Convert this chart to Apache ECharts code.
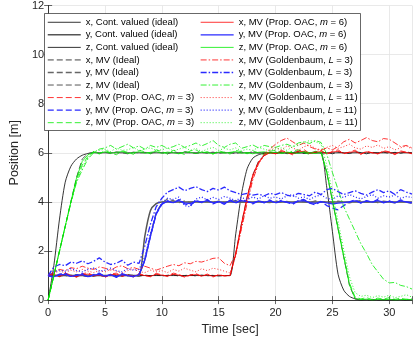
<!DOCTYPE html>
<html>
<head>
<meta charset="utf-8">
<script src="https://cdn.jsdelivr.net/npm/echarts@6/dist/echarts.min.js"></script>
<style>
  html, body { margin: 0; padding: 0; background: #fff; }
  #chart { width: 415px; height: 341px; }
</style>
</head>
<body>
<div id="chart"></div>
<script>
// time grid [sec]
const time = [0,0.5,1,1.5,2,2.5,3,3.5,4,4.5, 5,5.5,6,6.5,7,7.5,8,8.5,9,9.5,
  10,10.5,11,11.5,12,12.5,13,13.5,14,14.5, 15,15.5,16,16.5,17,17.5,18,18.5,19,19.5,
  20,20.5,21,21.5,22,22.5,23,23.5,24,24.5, 25,25.5,26,26.5,27,27.5,28,28.5,29,29.5,
  30,30.5,31,31.5,32];

const xTicks = [0, 5, 10, 15, 20, 25, 30];
const yTicks = [0, 2, 4, 6, 8, 10, 12];

// x position
const xCont = [1,1,1,1,1,1,1,1,1,1, 1,1,1,1,1,1,1,1,1,1, 1,1,1,1,1,1,1,1,1,1,
  1,1,1,2.7,4.3,5.35,5.78,5.92,5.98,6, 6,6,6,6,6,6,6,6,6,6, 6,6,6,6,6,6,6,6,6,6, 6,6,6,6,6];
const xIdeal = [1.0,1.03,0.97,1.02,0.98,1.04,0.99,0.96,1.02,1.0, 0.97,1.03,1.0,0.98,1.04,1.0,0.97,1.02,0.99,1.03,
  0.98,1.01,1.04,0.97,1.0,1.03,0.98,1.02,0.99,1.01, 0.98,1.0,1.0,1.9,3.1,4.2,5.1,5.65,5.9,6.02,
  5.97,6.03,5.98,6.02,6.05,5.97,6.0,6.04,5.98,6.02, 5.96,6.03,6.0,5.97,6.04,6.01,5.96,6.02,5.99,6.03,
  5.97,6.02,5.98,6.04,5.99];
const xM3 = [1.0,1.08,0.95,1.1,1.02,0.93,1.07,1.12,0.98,1.05, 0.92,1.06,1.1,0.97,1.04,0.94,1.08,1.0,0.95,1.09,
  1.03,0.96,1.1,1.05,0.93,1.02,1.08,0.97,1.06,0.94, 1.04,0.98,1.0,1.85,3.05,4.15,5.05,5.6,5.88,6.05,
  5.95,6.1,6.02,5.92,6.08,6.13,5.97,6.04,6.1,5.94, 6.06,6.12,5.96,6.03,6.11,5.93,6.07,6.0,5.95,6.09,
  6.04,5.92,6.08,6.02,5.96];
const xM6 = [1.0,1.04,0.97,1.05,1.0,0.96,1.03,1.06,0.99,1.02, 0.96,1.03,1.05,0.98,1.02,0.97,1.04,1.0,0.97,1.05,
  1.02,0.98,1.05,1.02,0.96,1.01,1.04,0.98,1.03,0.97, 1.02,0.99,1.0,1.9,3.1,4.2,5.1,5.62,5.88,6.0,
  5.97,6.05,6.01,5.96,6.04,6.06,5.98,6.02,6.05,5.97, 6.03,6.06,5.98,6.02,6.05,5.96,6.04,6.0,5.97,6.05,
  6.02,5.96,6.04,6.01,5.98];
const xL3 = [1.0,1.15,1.25,1.2,1.32,1.28,1.38,1.3,1.25,1.35, 1.3,1.22,1.35,1.4,1.28,1.33,1.25,1.38,1.3,1.22,
  1.3,1.38,1.45,1.4,1.52,1.48,1.58,1.55,1.62,1.7, 1.72,1.5,1.4,1.9,2.9,3.95,4.9,5.55,5.95,6.15,
  6.35,6.5,6.6,6.45,6.3,6.4,6.25,6.15,6.1,6.2, 6.12,6.25,6.45,6.55,6.4,6.5,6.62,6.5,6.45,6.58,
  6.55,6.4,6.25,6.3,6.2];
const xL11 = [1.0,1.1,1.18,1.12,1.22,1.15,1.25,1.18,1.12,1.2, 1.15,1.24,1.18,1.1,1.2,1.26,1.16,1.12,1.22,1.15,
  1.2,1.12,1.25,1.18,1.3,1.22,1.15,1.28,1.2,1.3, 1.25,1.18,1.1,1.8,2.95,4.05,4.95,5.55,5.9,6.1,
  6.2,6.12,6.28,6.2,6.1,6.25,6.32,6.18,6.12,6.22, 6.3,6.18,6.25,6.35,6.2,6.15,6.28,6.22,6.32,6.18,
  6.25,6.12,6.2,6.28,6.15];

// y position
const yCont = [1,1,1,1,1,1,1,1,1,1, 1,1,1,1,1,1,1,2.6,3.65,3.93, 4,4,4,4,4,4,4,4,4,4,
  4,4,4,4,4,4,4,4,4,4, 4,4,4,4,4,4,4,4,4,4, 4,4,4,4,4,4,4,4,4,4, 4,4,4,4,4];
const yIdeal = [1.0,0.97,1.03,0.98,1.02,0.96,1.04,1.0,0.97,1.03, 0.98,1.02,0.97,1.04,0.99,1.01,0.98,1.65,2.65,3.55,
  3.95,4.12,4.05,3.97,4.03,3.98,4.04,3.97,4.02,3.98, 4.03,3.97,4.02,4.05,3.98,4.01,3.96,4.03,4.0,3.97,
  4.04,3.98,4.02,3.96,4.03,4.0,3.97,4.04,3.99,4.02, 3.97,4.03,4.0,3.96,4.02,4.05,3.98,4.01,3.97,4.03,
  4.0,3.96,4.02,3.98,3.95];
const yM3 = [1.0,0.92,1.06,1.1,0.95,1.02,1.08,0.93,1.04,1.1, 0.96,1.05,0.92,1.08,1.0,0.95,1.06,1.6,2.6,3.5,
  3.9,4.05,3.95,4.1,3.92,3.85,4.06,3.98,4.1,3.92, 4.02,3.9,4.08,3.95,4.1,4.02,3.92,4.05,3.96,4.08,
  3.94,4.06,3.98,3.9,4.05,4.1,3.95,3.88,4.02,3.85, 3.75,3.68,3.85,4.0,4.08,3.95,4.05,3.98,4.1,3.96,
  4.04,3.95,4.08,4.0,3.94];
const yM6 = [1.0,0.96,1.03,1.05,0.97,1.01,1.04,0.96,1.02,1.05, 0.98,1.03,0.96,1.04,1.0,0.97,1.03,1.62,2.62,3.52,
  3.92,4.02,3.97,4.05,3.96,3.93,4.03,3.99,4.05,3.96, 4.01,3.95,4.04,3.97,4.05,4.01,3.96,4.03,3.98,4.04,
  3.97,4.03,3.99,3.95,4.03,4.05,3.97,3.94,4.01,3.96, 3.92,3.95,3.97,4.0,4.04,3.97,4.03,3.99,4.05,3.98,
  4.02,3.97,4.04,4.0,3.97];
const yL3 = [1.0,1.35,1.45,1.4,1.55,1.5,1.6,1.48,1.58,1.72, 1.55,1.45,1.5,1.62,1.42,1.55,1.5,2.2,3.1,3.8,
  4.15,4.4,4.5,4.6,4.45,4.55,4.62,4.5,4.42,4.55, 4.48,4.6,4.45,4.38,4.3,4.35,4.28,4.32,4.25,4.35,
  4.3,4.38,4.28,4.22,4.35,4.3,4.25,4.4,4.3,4.5, 4.55,4.42,4.3,4.38,4.45,4.35,4.28,4.4,4.5,4.38,
  4.45,4.3,4.5,4.4,4.32];
const yL11 = [1.0,1.15,1.22,1.18,1.28,1.2,1.15,1.25,1.3,1.18, 1.22,1.3,1.2,1.15,1.28,1.22,1.25,1.75,2.7,3.55,
  3.95,4.15,4.1,4.2,3.85,3.8,4.12,4.2,4.08,4.18, 4.1,4.22,4.15,4.05,4.18,4.1,4.2,4.12,4.25,4.15,
  4.2,4.12,4.25,4.3,4.15,4.2,4.1,4.22,4.28,4.15, 4.1,4.25,4.18,4.3,4.2,4.12,4.22,4.3,4.15,4.25,
  4.2,4.28,4.15,4.22,4.18];

// z position
const zCont = [0,1.4,3.3,4.8,5.45,5.75,5.9,5.97,6,6, 6,6,6,6,6,6,6,6,6,6, 6,6,6,6,6,6,6,6,6,6,
  6,6,6,6,6,6,6,6,6,6, 6,6,6,6,6,6,6,6,6,4.6, 2.8,1.05,0.4,0.15,0.05,0,0,0,0,0, 0,0,0,0,0];
const zIdeal = [0,1.0,2.0,3.0,4.0,5.0,5.75,5.97,6.03,5.98, 6.02,5.97,6.04,6.0,5.96,6.03,5.99,6.02,5.97,6.04,
  6.0,5.96,6.03,5.98,6.05,6.0,5.97,6.02,5.98,6.03, 5.97,6.02,6.0,5.96,6.03,5.99,6.04,5.98,6.01,5.97,
  6.03,5.98,6.02,5.97,6.0,6.04,5.98,6.02,6.0,5.2, 4.05,2.9,1.75,0.6,0.05,0.02,0,0.03,0,0.02,
  0,0.03,0,0.02,0];
const zM3 = [0,1.0,2.0,3.0,4.0,4.9,5.5,5.85,6.05,5.95, 6.1,6.0,5.92,6.08,6.02,5.94,6.1,6.04,5.96,6.12,
  6.05,5.95,6.1,6.02,5.93,6.08,6.12,5.98,6.05,5.94, 6.08,6.02,5.95,6.1,6.04,5.96,6.08,6.0,5.93,6.06,
  6.1,6.02,5.95,6.08,6.12,6.0,5.94,6.06,6.0,5.25, 4.1,2.95,1.8,0.7,0.12,0.05,0.1,0.02,0.08,0.04,
  0.1,0.03,0.08,0.02,0.05];
const zM6 = [0,1.0,2.0,3.0,4.0,4.98,5.65,5.92,6.02,5.98, 6.04,5.98,6.02,6.05,5.97,6.01,6.04,5.98,6.02,6.05,
  5.98,6.03,6.0,5.96,6.04,6.02,5.97,6.03,6.0,5.97, 6.03,5.98,6.02,6.05,5.98,6.01,5.96,6.02,6.04,5.99,
  6.02,5.97,6.03,6.0,5.98,6.04,6.01,5.97,6.02,5.22, 4.05,2.9,1.75,0.62,0.06,0.02,0.04,0,0.03,0.01,
  0.03,0,0.02,0.04,0.01];
const zL3 = [0,1.0,2.0,3.0,3.95,4.8,5.3,5.75,6.0,6.15, 6.2,6.3,6.15,6.25,6.35,6.2,6.28,6.15,6.3,6.22,
  6.3,6.18,6.25,6.35,6.22,6.3,6.4,6.28,6.38,6.5, 6.3,6.22,6.35,6.4,6.18,6.25,6.32,6.2,6.3,6.25,
  6.22,6.3,6.35,6.25,6.4,6.45,6.38,6.5,6.42,5.95, 5.2,4.5,3.8,3.3,2.8,2.3,1.9,1.45,1.15,0.85,
  0.7,0.72,0.6,0.55,0.45];
const zL11 = [0,1.0,2.0,3.0,3.98,4.85,5.4,5.8,6.05,6.1, 6.15,6.05,6.2,6.1,6.12,6.22,6.08,6.15,6.2,6.1,
  6.12,6.2,6.08,6.15,6.22,6.1,6.18,6.05,6.15,6.22, 6.1,6.18,6.12,6.2,6.08,6.15,6.1,6.22,6.15,6.08,
  6.15,6.2,6.1,6.25,6.3,6.42,6.5,6.45,6.35,5.5, 4.4,3.2,2.05,0.95,0.3,0.15,0.2,0.1,0.18,0.12,
  0.2,0.1,0.15,0.22,0.12];

// name, values, colour, width, dash
const lines = [
  ['x, Cont. valued (ideal)', xCont, '#000000', 0.8, 'solid'],
  ['y, Cont. valued (ideal)', yCont, '#555555', 1.5, 'solid'],
  ['z, Cont. valued (ideal)', zCont, '#000000', 0.8, 'solid'],
  ['x, MV (Ideal)', xIdeal, '#111111', 0.8, [6, 3]],
  ['y, MV (Ideal)', yIdeal, '#666666', 1.3, [6, 3]],
  ['z, MV (Ideal)', zIdeal, '#555555', 1.0, [6, 3]],
  ['x, MV (Prop. OAC, m = 3)', xM3, '#ff0000', 0.8, [6, 3]],
  ['y, MV (Prop. OAC, m = 3)', yM3, '#2a2aff', 1.3, [6, 3]],
  ['z, MV (Prop. OAC, m = 3)', zM3, '#00ee00', 0.8, [6, 3]],
  ['x, MV (Prop. OAC, m = 6)', xM6, '#ff0000', 0.8, 'solid'],
  ['y, MV (Prop. OAC, m = 6)', yM6, '#2a2aff', 1.3, 'solid'],
  ['z, MV (Prop. OAC, m = 6)', zM6, '#00ee00', 0.8, 'solid'],
  ['x, MV (Goldenbaum, L = 3)', xL3, '#ff0000', 0.8, [6, 2, 1.5, 2]],
  ['y, MV (Goldenbaum, L = 3)', yL3, '#2a2aff', 1.3, [6, 2, 1.5, 2]],
  ['z, MV (Goldenbaum, L = 3)', zL3, '#00ee00', 0.8, [6, 2, 1.5, 2]],
  ['x, MV (Goldenbaum, L = 11)', xL11, '#ff0000', 0.8, [1, 2]],
  ['y, MV (Goldenbaum, L = 11)', yL11, '#2a2aff', 1.3, [1, 2]],
  ['z, MV (Goldenbaum, L = 11)', zL11, '#00ee00', 0.8, [1, 2]]
];

const axisColor = '#262626';
const font = 'Liberation Sans, Arial, Helvetica, sans-serif';

const chart = echarts.init(document.getElementById('chart'));

const series = lines.map(([name, vals, color, width, dash], k) => ({
  name: name,
  type: 'line',
  symbol: 'none',
  smooth: k < 3 ? 0.25 : false,
  animation: false,
  color: color,
  lineStyle: { color: color, width: width, type: dash },
  data: time.map((t, i) => [t, vals[i]]),
  z: 2
}));

const legendText = {
  fontFamily: font,
  fontSize: 9.5,
  color: '#000',
  lineHeight: 12.55,
  rich: { i: { fontStyle: 'italic', fontFamily: font, fontSize: 9.5, color: '#000', lineHeight: 12.55 } }
};
const legendBase = {
  orient: 'vertical',
  selectedMode: false,
  itemWidth: 33,
  itemHeight: 8,
  itemGap: 0,
  padding: 0,
  top: 16,
  z: 60,
  itemStyle: { opacity: 0 },
  textStyle: legendText,
  formatter: name => name.replace(/ ([mL]) = /, ' {i|$1} = ')
};
const legendItems = list => list.map(([name, , color, width, dash]) => ({
  name: name,
  lineStyle: { color: color, width: width, type: dash }
}));

const option = {
  animation: false,
  backgroundColor: '#fff',
  grid: { left: 34, right: 2, top: 4, bottom: 37 },
  xAxis: [
    {
      type: 'value', min: 0, max: 32, interval: 5,
      name: 'Time [sec]', nameLocation: 'middle', nameGap: 21,
      nameTextStyle: { fontFamily: font, fontSize: 12.5, color: axisColor },
      axisLine: { lineStyle: { color: axisColor, width: 0.7 } },
      axisTick: { inside: true, length: 4, lineStyle: { color: axisColor, width: 0.7 } },
      axisLabel: {
        margin: 7, fontFamily: font, fontSize: 11, color: axisColor,
        formatter: v => (xTicks.includes(v) ? String(v) : '')
      },
      splitLine: { show: true, lineStyle: { color: '#e3e3e3', width: 0.8 } }
    },
    {
      type: 'value', position: 'top', min: 0, max: 32, interval: 5,
      axisLine: { show: true, lineStyle: { color: axisColor, width: 0.7 } },
      axisTick: { show: true, inside: true, length: 4, lineStyle: { color: axisColor, width: 0.7 } },
      axisLabel: { show: false },
      splitLine: { show: false }
    }
  ],
  yAxis: [
    {
      type: 'value', min: 0, max: 12, interval: 2,
      name: 'Position [m]', nameLocation: 'middle', nameGap: 21,
      nameTextStyle: { fontFamily: font, fontSize: 12.5, color: axisColor },
      axisLine: { show: true, lineStyle: { color: axisColor, width: 0.7 } },
      axisTick: { show: true, inside: true, length: 4, lineStyle: { color: axisColor, width: 0.7 } },
      axisLabel: {
        margin: 4, fontFamily: font, fontSize: 11, color: axisColor,
        formatter: v => (yTicks.includes(v) ? String(v) : '')
      },
      splitLine: { show: true, lineStyle: { color: '#e3e3e3', width: 0.8 } }
    },
    {
      type: 'value', position: 'right', min: 0, max: 12, interval: 2,
      axisLine: { show: true, lineStyle: { color: axisColor, width: 0.7 } },
      axisTick: { show: true, inside: true, length: 4, lineStyle: { color: axisColor, width: 0.7 } },
      axisLabel: { show: false },
      splitLine: { show: false }
    }
  ],
  graphic: [
    {
      type: 'rect', z: 50,
      shape: { x: 44.5, y: 13.5, width: 316, height: 117 },
      style: { fill: '#fff', stroke: axisColor, lineWidth: 0.7 }
    }
  ],
  legend: [
    Object.assign({}, legendBase, { left: 47, data: legendItems(lines.slice(0, 9)) }),
    Object.assign({}, legendBase, { left: 200, data: legendItems(lines.slice(9)) })
  ],
  series: series
};

chart.setOption(option);
</script>
</body>
</html>
